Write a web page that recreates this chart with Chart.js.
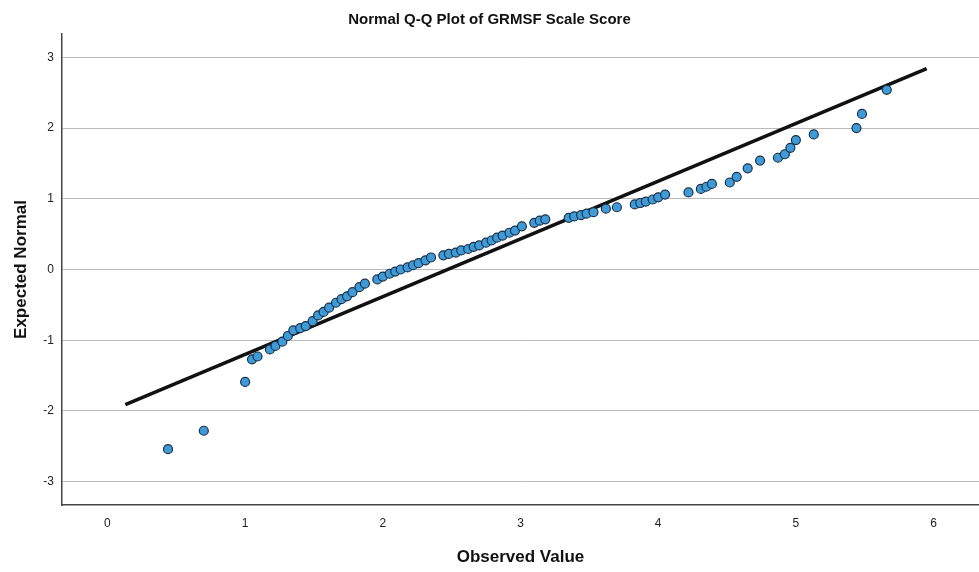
<!doctype html>
<html lang="en">
<head>
    <meta charset="utf-8">
    <title>Normal Q-Q Plot of GRMSF Scale Score</title>
    <style>
        * {
            margin: 0;
            padding: 0;
        }
        body {
            background: #fff;
            overflow: hidden;
        }
        #myChart {
            display: block;
        }
    </style>
</head>
<body>
<canvas id="myChart" width="979" height="572"></canvas>
<script src="https://cdn.jsdelivr.net/npm/chart.js"></script>
<script>
    const observed = [
        0.44, 0.70, 1.00, 1.05, 1.09, 1.18, 1.22, 1.27, 1.31, 1.35,
        1.40, 1.44, 1.49, 1.53, 1.57, 1.61, 1.66, 1.70, 1.74, 1.78,
        1.83, 1.87, 1.96, 2.00, 2.05, 2.09, 2.13, 2.18, 2.22, 2.26,
        2.31, 2.35, 2.44, 2.48, 2.53, 2.57, 2.62, 2.66, 2.70, 2.75,
        2.79, 2.83, 2.87, 2.92, 2.96, 3.01, 3.10, 3.14, 3.18, 3.35,
        3.39, 3.44, 3.48, 3.53, 3.62, 3.70, 3.83, 3.87, 3.91, 3.96,
        4.00, 4.05, 4.22, 4.31, 4.35, 4.39, 4.52, 4.57, 4.65, 4.74,
        4.87, 4.92, 4.96, 5.00, 5.13, 5.44, 5.48, 5.66
    ];
    const expected = [
        -2.54, -2.28, -1.59, -1.27, -1.23, -1.13, -1.08, -1.02, -0.94, -0.86,
        -0.83, -0.80, -0.73, -0.65, -0.60, -0.54, -0.47, -0.42, -0.38, -0.32,
        -0.25, -0.20, -0.14, -0.10, -0.06, -0.03, 0.00, 0.03, 0.06, 0.09,
        0.13, 0.17, 0.20, 0.22, 0.24, 0.27, 0.29, 0.32, 0.34, 0.38,
        0.41, 0.45, 0.48, 0.52, 0.55, 0.61, 0.66, 0.69, 0.71, 0.73,
        0.75, 0.77, 0.79, 0.81, 0.86, 0.88, 0.92, 0.94, 0.96, 0.99,
        1.02, 1.06, 1.09, 1.14, 1.17, 1.21, 1.23, 1.31, 1.43, 1.54,
        1.58, 1.63, 1.72, 1.83, 1.91, 2.00, 2.20, 2.54
    ];

    // reference line end points
    const refLineX = [0.13, 5.95];
    const refLineY = [-1.91, 2.84];

    const xTicks = [0, 1, 2, 3, 4, 5, 6];
    const yTicks = [-3, -2, -1, 0, 1, 2, 3];

    const points = observed.map((v, i) => ({x: v, y: expected[i]}));
    const linePts = refLineX.map((v, i) => ({x: v, y: refLineY[i]}));

    const data = {
        datasets: [{
            type: 'line',
            label: 'Reference',
            data: linePts,
            borderColor: '#111',
            borderWidth: 3.5,
            pointRadius: 0,
            fill: false,
            order: 2
        }, {
            type: 'scatter',
            label: 'Observed',
            data: points,
            backgroundColor: '#3f9bd8',
            borderColor: '#1b3147',
            borderWidth: 1.2,
            pointRadius: 4.5,
            order: 1
        }]
    };

    const config = {
        type: 'scatter',
        data,
        options: {
            responsive: false,
            animation: false,
            layout: {
                autoPadding: false,
                padding: {left: 0, right: 0, top: 0, bottom: 0}
            },
            plugins: {
                legend: {display: false},
                tooltip: {enabled: false},
                title: {
                    display: true,
                    text: 'Normal Q-Q Plot of GRMSF Scale Score',
                    color: '#111',
                    font: {family: 'Arial, "Liberation Sans", sans-serif', size: 15, weight: 'bold'},
                    padding: {top: 11, bottom: 5}
                }
            },
            scales: {
                x: {
                    type: 'linear',
                    min: -0.33,
                    max: 6.33,
                    afterBuildTicks: axis => {
                        axis.ticks = xTicks.map(v => ({value: v}));
                    },
                    afterFit: axis => {
                        axis.height = 67;
                    },
                    grid: {display: false},
                    border: {display: true, color: '#444', width: 1.5},
                    ticks: {
                        color: '#222',
                        font: {family: 'Arial, "Liberation Sans", sans-serif', size: 12},
                        padding: 3,
                        maxRotation: 0
                    },
                    title: {
                        display: true,
                        text: 'Observed Value',
                        color: '#111',
                        font: {family: 'Arial, "Liberation Sans", sans-serif', size: 17, weight: 'bold'},
                        padding: {top: 17}
                    }
                },
                y: {
                    type: 'linear',
                    min: -3.33,
                    max: 3.33,
                    afterBuildTicks: axis => {
                        axis.ticks = yTicks.map(v => ({value: v}));
                    },
                    afterFit: axis => {
                        axis.width = 62;
                    },
                    grid: {
                        color: '#bababa',
                        lineWidth: 1,
                        drawTicks: false
                    },
                    border: {display: true, color: '#444', width: 1.5},
                    ticks: {
                        color: '#222',
                        font: {family: 'Arial, "Liberation Sans", sans-serif', size: 12},
                        padding: 8
                    },
                    title: {
                        display: true,
                        text: 'Expected Normal',
                        color: '#111',
                        font: {family: 'Arial, "Liberation Sans", sans-serif', size: 17, weight: 'bold'},
                        padding: {top: 11, bottom: 0}
                    }
                }
            }
        }
    };

    const myChart = new Chart(document.getElementById('myChart'), config);
</script>
</body>
</html>
